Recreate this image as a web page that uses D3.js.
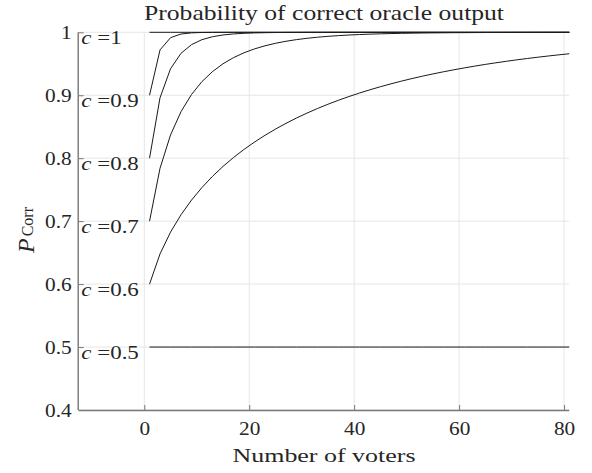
<!DOCTYPE html>
<html>
<head>
<meta charset="utf-8">
<script src="https://cdn.jsdelivr.net/npm/d3@7"></script>
<style>
  html, body { margin: 0; padding: 0; background: #fff; }
  svg { display: block; }
  text { font-family: "Liberation Serif", "Times New Roman", serif; fill: #262626; }
</style>
</head>
<body>
<svg id="chart" width="592" height="473"></svg>
<script>
// ---- data ----
const voters = [1,3,5,7,9,11,13,15,17,19,21,23,25,27,29,31,33,35,37,39,41,
                43,45,47,49,51,53,55,57,59,61,63,65,67,69,71,73,75,77,79,81];

const pC10 = [1,1,1,1,1,1,1,1,1,1,1,1,1,1,1,1,1,1,1,1,1,
              1,1,1,1,1,1,1,1,1,1,1,1,1,1,1,1,1,1,1,1];
const pC09 = [0.9,0.972,0.99144,0.997272,0.999109,0.999704,0.9999,0.999966,0.999988,0.999996,
              1,1,1,1,1,1,1,1,1,1,1,1,1,1,1,1,1,1,1,1,1,1,1,1,1,1,1,1,1,1,1];
const pC08 = [0.8,0.896,0.94208,0.966656,0.980419,0.988346,0.992997,0.995761,0.997419,0.998421,
              0.99903,0.999402,0.99963,0.99977,0.999856,0.999909,0.999942,0.999963,0.999976,0.999985,
              0.99999,0.999994,0.999996,0.999998,0.999999,1,1,1,1,1,1,1,1,1,1,1,1,1,1,1,1];
const pC07 = [0.7,0.784,0.83692,0.873964,0.901191,0.921775,0.937624,0.949987,0.959723,0.967447,
              0.973611,0.978553,0.982531,0.985744,0.988347,0.990461,0.992181,0.993583,0.994728,0.995665,
              0.996432,0.997061,0.997577,0.998001,0.99835,0.998637,0.998873,0.999068,0.999229,0.999362,
              0.999472,0.999563,0.999638,0.9997,0.999751,0.999794,0.999829,0.999858,0.999882,0.999902,0.999919];
const pC06 = [0.6,0.648,0.68256,0.710208,0.733432,0.753498,0.771156,0.786897,0.801064,0.813909,
              0.825623,0.836357,0.846233,0.855349,0.863788,0.871619,0.878902,0.885688,0.892022,0.897942,
              0.903483,0.908676,0.913548,0.918123,0.922424,0.92647,0.93028,0.93387,0.937255,0.940448,
              0.943462,0.946309,0.948999,0.951543,0.953949,0.956226,0.958381,0.960422,0.962356,0.964189,0.965926];
const pC05 = [0.5,0.5,0.5,0.5,0.5,0.5,0.5,0.5,0.5,0.5,0.5,0.5,0.5,0.5,0.5,0.5,0.5,0.5,0.5,0.5,0.5,
              0.5,0.5,0.5,0.5,0.5,0.5,0.5,0.5,0.5,0.5,0.5,0.5,0.5,0.5,0.5,0.5,0.5,0.5,0.5,0.5];

const cValues = ["1", "0.9", "0.8", "0.7", "0.6", "0.5"];
const cLevels = [1, 0.9, 0.8, 0.7, 0.6, 0.5];
const seriesList = [pC10, pC09, pC08, pC07, pC06, pC05];

const xTicks = [0, 20, 40, 60, 80];
const yTicks = [0.4, 0.5, 0.6, 0.7, 0.8, 0.9, 1];
const yTickLabels = ["0.4", "0.5", "0.6", "0.7", "0.8", "0.9", "1"];
const xDomain = [-12.5, 81];
const yDomain = [0.4, 1];

const titleText = "Probability of correct oracle output";
const xLabelText = "Number of voters";
const labelX = -12;

// ---- drawing ----
const svg = d3.select("#chart");
const L = 78.7, R = 569.3, T = 32.3, B = 410;
const x = d3.scaleLinear().domain(xDomain).range([L, R]);
const y = d3.scaleLinear().domain(yDomain).range([B, T]);

function stretch(sel, factor, target) {
  sel.each(function() {
    const len = this.getComputedTextLength();
    const t = target != null ? target : len * factor;
    d3.select(this).attr("textLength", t).attr("lengthAdjust", "spacingAndGlyphs");
  });
}

// grid
const grid = svg.append("g").attr("stroke", "#e6e6e6").attr("stroke-width", 1);
grid.selectAll("line.gx").data(xTicks).join("line")
  .attr("x1", d => x(d)).attr("x2", d => x(d)).attr("y1", T).attr("y2", B);
grid.selectAll("line.gy").data(yTicks).join("line")
  .attr("x1", L).attr("x2", R).attr("y1", d => y(d)).attr("y2", d => y(d));

// curves
const line = d3.line().x((d, i) => x(voters[i])).y(d => y(d));
svg.append("g").selectAll("path").data(seriesList).join("path")
  .attr("d", d => line(d))
  .attr("fill", "none")
  .attr("stroke", "#1a1a1a")
  .attr("stroke-width", 1);

// axes (MATLAB-like, box off, inward ticks)
const xAxis = d3.axisBottom(x).tickValues(xTicks).tickSize(-5).tickPadding(0).tickFormat(d3.format("d"));
const gx = svg.append("g").attr("transform", `translate(0,${B})`).call(xAxis);
gx.select(".domain").attr("d", `M${L},0.5H${R}`).attr("stroke", "#777").attr("stroke-width", 1.4);
gx.selectAll(".tick line").attr("stroke", "#777").attr("stroke-width", 1);
gx.selectAll(".tick text").text(d => d)
  .attr("y", 25).attr("dy", null)
  .style("font-family", '"Liberation Serif", serif')
  .style("font-size", "18.5px").attr("fill", "#262626");
stretch(gx.selectAll(".tick text"), 1.15);

const yAxis = d3.axisLeft(y).tickValues(yTicks).tickSize(-5).tickPadding(0)
  .tickFormat((d, i) => yTickLabels[i]);
const gy = svg.append("g").attr("transform", `translate(${L},0)`).call(yAxis);
gy.select(".domain").attr("d", `M-0.5,${B}V${T}`).attr("stroke", "#777").attr("stroke-width", 1.4);
gy.selectAll(".tick line").attr("stroke", "#777").attr("stroke-width", 1);
gy.selectAll(".tick text")
  .attr("x", -7).attr("dy", "0.34em")
  .style("font-family", '"Liberation Serif", serif')
  .style("font-size", "18.5px").attr("fill", "#262626");
stretch(gy.selectAll(".tick text"), 1.15);

// c labels
const cl = svg.append("g").selectAll("text").data(cValues).join("text")
  .attr("x", x(labelX))
  .attr("y", (d, i) => y(cLevels[i]) + 11.6)
  .style("font-size", "18.5px");
cl.append("tspan").style("font-style", "italic").text("c");
cl.append("tspan").text(d => " =" + d);
stretch(cl, 1.24);

// title
const title = svg.append("text")
  .attr("x", (L + R) / 2).attr("y", 19.5)
  .attr("text-anchor", "middle")
  .style("font-size", "21px")
  .text(titleText);
stretch(title, null, 360);

// x label
const xl = svg.append("text")
  .attr("x", (L + R) / 2).attr("y", 461.5)
  .attr("text-anchor", "middle")
  .style("font-size", "19.6px")
  .text(xLabelText);
stretch(xl, null, 183);

// y label: P_Corr rotated
const yl = svg.append("text")
  .attr("transform", "translate(34,253) rotate(-90)")
  .attr("text-anchor", "start");
yl.append("tspan").style("font-style", "italic").style("font-size", "24px").text("P");
yl.append("tspan").attr("dx", 2).attr("dy", -1).style("font-size", "16px").text("Corr");
</script>
</body>
</html>
